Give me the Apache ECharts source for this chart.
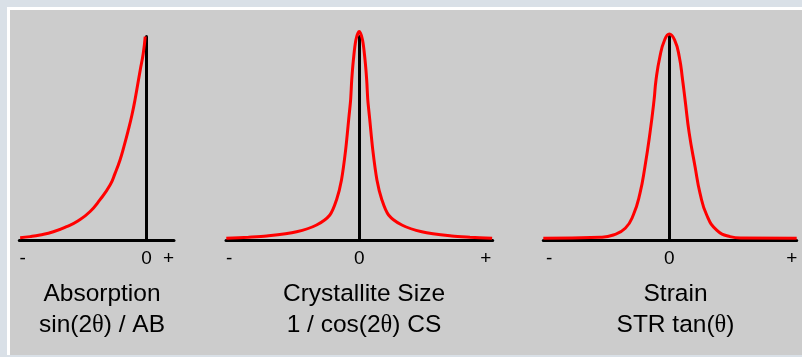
<!DOCTYPE html>
<html>
<head>
<meta charset="utf-8">
<title>Peak broadening profiles</title>
<script src="https://cdn.jsdelivr.net/npm/echarts@6/dist/echarts.min.js"></script>
<style>
  html, body { margin: 0; padding: 0; background: #d9e0e7; }
  #edge { position: absolute; left: 7px; top: 7px; width: 795px; height: 348px; background: #ffffff; }
  #panel { position: absolute; left: 10px; top: 10px; width: 792px; height: 345px; background: #cccccc; }
  #chart { position: absolute; left: 0; top: 0; width: 802px; height: 357px; }
</style>
</head>
<body>
<div id="edge"></div>
<div id="panel"></div>
<div id="chart"></div>
<script>
// Profile shapes, offset from peak position (x) vs relative intensity (y, 100 = peak height)
const absorptionX = [-4.57, -4.21, -3.85, -3.37, -2.89, -2.47, -2.05, -1.69, -1.32, -1.14, -0.96, -0.82, -0.66, -0.53, -0.42, -0.23, -0.12, -0.05];
const absorptionY = [1.4, 1.9, 2.7, 4.3, 6.8, 9.7, 14.1, 19.9, 27.2, 32.9, 39.5, 46.0, 54.2, 61.5, 68.9, 83.6, 91.8, 100];

const sizeX = [-4.8, -4.0, -3.34, -2.26, -1.54, -1.06, -0.82, -0.64, -0.49, -0.37, -0.31, -0.27, -0.21, -0.12, 0, 0.12, 0.21, 0.27, 0.31, 0.37, 0.49, 0.64, 0.82, 1.06, 1.54, 2.26, 3.34, 4.0, 4.8];
const sizeY = [1.1, 1.6, 2.2, 4.3, 7.6, 12.5, 19.9, 29.7, 44.4, 60.7, 68.9, 78.7, 88.5, 98.3, 102.4, 98.3, 88.5, 78.7, 68.9, 60.7, 44.4, 29.7, 19.9, 12.5, 7.6, 4.3, 2.2, 1.6, 1.1];

const strainX = [-4.55, -2.49, -2.02, -1.59, -1.30, -1.06, -0.88, -0.70, -0.55, -0.48, -0.34, -0.17, 0, 0.19, 0.36, 0.48, 0.57, 0.72, 0.93, 1.11, 1.35, 1.71, 2.19, 2.6, 4.6];
const strainY = [1.1, 1.6, 2.7, 6.0, 12.5, 23.1, 36.2, 52.5, 68.9, 78.7, 90.1, 98.3, 101.2, 98.3, 90.1, 78.7, 68.9, 52.5, 36.2, 23.1, 12.5, 5.1, 1.9, 1.2, 1.1];

// Axis extents for each panel and where the "-", "0", "+" marks sit
const axisMin = [-4.6, -4.81, -4.55];
const axisMax = [0.99, 4.82, 4.6];
const tickLabels = ['-', '0', '+'];
const tickValues = [
  [-4.48, 0, 0.79],
  [-4.70, 0, 4.57],
  [-4.34, 0, 4.42]
];

// Panel captions
const captions = [
  ['Absorption', 'sin(2θ) / AB'],
  ['Crystallite Size', '1 / cos(2θ) CS'],
  ['Strain', 'STR tan(θ)']
];

const seriesX = [absorptionX, sizeX, strainX];
const seriesY = [absorptionY, sizeY, strainY];
// Curve smoothing per profile (the size profile has a sharp tip)
const smoothness = [0.5, 0.3, 0.5];

// Plot frames (pixels): left edge, width, caption centre
const frames = [
  { left: 19.3, width: 154.7, center: 97 },
  { left: 226, width: 266.7, center: 359 },
  { left: 543.3, width: 253.4, center: 670.5 }
];

const SANS = '"Liberation Sans", Arial, sans-serif';
const SERIF = '"Liberation Serif", "Times New Roman", serif';

const grid = [], xAxis = [], yAxis = [], series = [], title = [];
frames.forEach((f, i) => {
  grid.push({ left: f.left, width: f.width, top: 36.5, height: 204, containLabel: false });
  xAxis.push({
    type: 'value', gridIndex: i, min: axisMin[i], max: axisMax[i],
    axisLine: { show: true, onZero: true, lineStyle: { color: '#000', width: 3 } },
    axisTick: { show: false },
    splitLine: { show: false },
    axisLabel: {
      show: true,
      customValues: tickValues[i],
      formatter: (v) => tickLabels[tickValues[i].indexOf(v)] ?? (v < 0 ? '-' : v > 0 ? '+' : '0'),
      color: '#000', fontSize: 19, fontFamily: SANS, margin: 9,
      hideOverlap: false, showMinLabel: true, showMaxLabel: true
    }
  });
  yAxis.push({
    type: 'value', gridIndex: i, min: 0, max: 100,
    axisLine: { show: true, onZero: true, lineStyle: { color: '#000', width: 3 } },
    axisTick: { show: false }, axisLabel: { show: false }, splitLine: { show: false }
  });
  series.push({
    type: 'line', xAxisIndex: i, yAxisIndex: i,
    data: seriesX[i].map((x, k) => [x, seriesY[i][k]]),
    showSymbol: false, smooth: smoothness[i], clip: false,
    lineStyle: { color: '#ff0000', width: 3 },
    z: 5, silent: true
  });
  const text = captions[i].map(s => s.replace(/θ/g, '{t|θ}')).join('\n');
  title.push({
    text: text, left: f.center, top: 274, textAlign: 'center',
    textStyle: {
      fontSize: 24.5, fontWeight: 'normal', fontFamily: SANS, color: '#000', lineHeight: 31,
      rich: { t: { fontSize: 24.5, fontFamily: SERIF, color: '#000', lineHeight: 31 } }
    }
  });
});

const chart = echarts.init(document.getElementById('chart'), null, { renderer: 'canvas' });
chart.setOption({
  backgroundColor: 'transparent',
  animation: false,
  title, grid, xAxis, yAxis, series
});
</script>
</body>
</html>
